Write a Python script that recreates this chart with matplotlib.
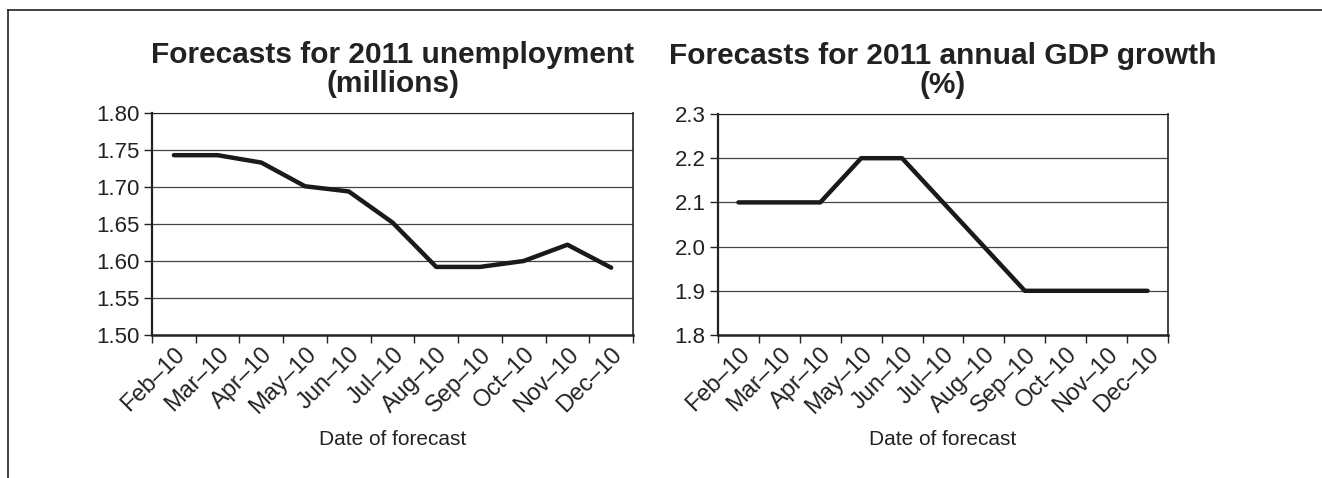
import matplotlib
matplotlib.use('Agg')
import matplotlib.pyplot as plt
from matplotlib.lines import Line2D
import numpy as np

plt.rcParams['font.family'] = ['Liberation Sans', 'DejaVu Sans']

# Data
months = ['Feb\u201310', 'Mar\u201310', 'Apr\u201310', 'May\u201310', 'Jun\u201310', 'Jul\u201310',
          'Aug\u201310', 'Sep\u201310', 'Oct\u201310', 'Nov\u201310', 'Dec\u201310']
unemployment = [1.743, 1.743, 1.733, 1.701, 1.694, 1.652, 1.592, 1.592, 1.600, 1.622, 1.591]
gdp_growth = [2.1, 2.1, 2.1, 2.2, 2.2, 2.1, 2.0, 1.9, 1.9, 1.9, 1.9]

unemp_ticks = [1.50, 1.55, 1.60, 1.65, 1.70, 1.75, 1.80]
gdp_ticks = [1.8, 1.9, 2.0, 2.1, 2.2, 2.3]

dark = '#222222'

fig = plt.figure(figsize=(13.22, 4.78), dpi=100)

# figure frame (top and left only)
fig.add_artist(Line2D([8 / 1322, 8 / 1322], [0, 1 - 10 / 478], transform=fig.transFigure,
                      color=dark, lw=1.2))
fig.add_artist(Line2D([8 / 1322, 1], [1 - 10 / 478, 1 - 10 / 478], transform=fig.transFigure,
                      color=dark, lw=1.2))

ax1 = fig.add_axes([152 / 1322, 1 - 335 / 478, 481 / 1322, 222 / 478])
ax2 = fig.add_axes([718 / 1322, 1 - 335 / 478, 450 / 1322, 221 / 478])


def style_axis(ax, values, yticks, fmt, title):
    x = np.arange(len(months))
    ax.plot(x, values, color='#1a1a1a', lw=3.2, solid_capstyle='round', zorder=3)
    ax.set_xlim(-0.5, len(months) - 0.5)
    ax.set_ylim(yticks[0], yticks[-1])
    ax.set_yticks(yticks)
    ax.set_yticklabels([fmt % v for v in yticks], fontsize=16, color=dark)
    ax.set_xticks(x)
    ax.set_xticklabels(months, rotation=45, ha='right', rotation_mode='anchor',
                       fontsize=17, color=dark)
    ax.set_xticks(np.arange(len(months) + 1) - 0.5, minor=True)
    ax.tick_params(axis='x', which='major', length=0, pad=6)
    ax.tick_params(axis='x', which='minor', length=6, width=1, color=dark, direction='out')
    ax.tick_params(axis='y', length=6, width=1, color=dark, direction='out', pad=3)
    ax.yaxis.grid(True, color='#444444', lw=0.9)
    ax.set_axisbelow(True)
    ax.spines['left'].set_linewidth(1.6)
    ax.spines['bottom'].set_linewidth(1.8)
    ax.spines['right'].set_linewidth(1.2)
    ax.spines['top'].set_linewidth(0.8)
    for s in ax.spines.values():
        s.set_color(dark)
    ax.set_xlabel('Date of forecast', fontsize=15, color=dark, labelpad=8)
    ax.set_title(title, fontsize=21.5, fontweight='bold', color=dark, pad=15, linespacing=1.05)


style_axis(ax1, unemployment, unemp_ticks, '%.2f', 'Forecasts for 2011 unemployment\n(millions)')
style_axis(ax2, gdp_growth, gdp_ticks, '%.1f', 'Forecasts for 2011 annual GDP growth\n(%)')

plt.savefig('out.png', dpi=100)
